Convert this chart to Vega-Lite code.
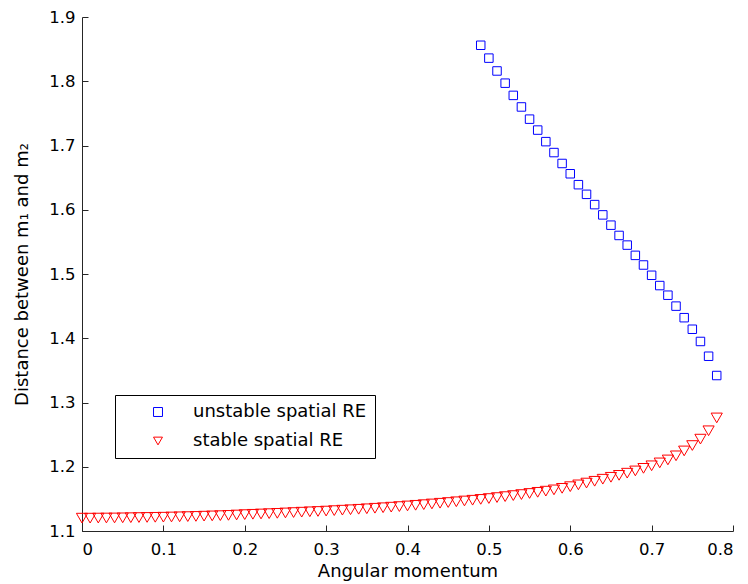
{
  "$schema": "https://vega.github.io/schema/vega-lite/v6.json",
  "autosize": {"type": "none"},
  "padding": {"left": 82, "top": 17, "right": 15, "bottom": 53},
  "width": 651,
  "height": 514,
  "background": "white",
  "config": {
    "view": {"stroke": null},
    "font": "DejaVu Sans",
    "axis": {
      "grid": false,
      "domainColor": "#262626",
      "tickColor": "#262626",
      "labelColor": "black",
      "titleColor": "black",
      "labelFont": "DejaVu Sans",
      "titleFont": "DejaVu Sans",
      "titleFontWeight": "normal",
      "tickSize": -6
    }
  },
  "datasets": {
    "unstable": [
      {"L": 0.49, "d": 1.856}, {"L": 0.50, "d": 1.836}, {"L": 0.51, "d": 1.816}, {"L": 0.52, "d": 1.797},
      {"L": 0.53, "d": 1.778}, {"L": 0.54, "d": 1.760}, {"L": 0.55, "d": 1.741}, {"L": 0.56, "d": 1.724},
      {"L": 0.57, "d": 1.706}, {"L": 0.58, "d": 1.689}, {"L": 0.59, "d": 1.672}, {"L": 0.60, "d": 1.656},
      {"L": 0.61, "d": 1.639}, {"L": 0.62, "d": 1.624}, {"L": 0.63, "d": 1.608}, {"L": 0.64, "d": 1.592},
      {"L": 0.65, "d": 1.576}, {"L": 0.66, "d": 1.560}, {"L": 0.67, "d": 1.545}, {"L": 0.68, "d": 1.529},
      {"L": 0.69, "d": 1.514}, {"L": 0.70, "d": 1.498}, {"L": 0.71, "d": 1.482}, {"L": 0.72, "d": 1.467},
      {"L": 0.73, "d": 1.450}, {"L": 0.74, "d": 1.432}, {"L": 0.75, "d": 1.414}, {"L": 0.76, "d": 1.395},
      {"L": 0.77, "d": 1.372}, {"L": 0.78, "d": 1.342}
    ],
    "stable": [
      {"L": 0.00, "d": 1.1200}, {"L": 0.01, "d": 1.1200}, {"L": 0.02, "d": 1.1201}, {"L": 0.03, "d": 1.1202},
      {"L": 0.04, "d": 1.1203}, {"L": 0.05, "d": 1.1205}, {"L": 0.06, "d": 1.1207}, {"L": 0.07, "d": 1.1209},
      {"L": 0.08, "d": 1.1211}, {"L": 0.09, "d": 1.1213}, {"L": 0.10, "d": 1.1215}, {"L": 0.11, "d": 1.1218},
      {"L": 0.12, "d": 1.1221}, {"L": 0.13, "d": 1.1224}, {"L": 0.14, "d": 1.1227}, {"L": 0.15, "d": 1.1231},
      {"L": 0.16, "d": 1.1235}, {"L": 0.17, "d": 1.1239}, {"L": 0.18, "d": 1.1243}, {"L": 0.19, "d": 1.1249},
      {"L": 0.20, "d": 1.1255}, {"L": 0.21, "d": 1.1260}, {"L": 0.22, "d": 1.1265}, {"L": 0.23, "d": 1.1270},
      {"L": 0.24, "d": 1.1275}, {"L": 0.25, "d": 1.1281}, {"L": 0.26, "d": 1.1287}, {"L": 0.27, "d": 1.1293},
      {"L": 0.28, "d": 1.1299}, {"L": 0.29, "d": 1.1304}, {"L": 0.30, "d": 1.1310}, {"L": 0.31, "d": 1.1317},
      {"L": 0.32, "d": 1.1324}, {"L": 0.33, "d": 1.1331}, {"L": 0.34, "d": 1.1338}, {"L": 0.35, "d": 1.1346},
      {"L": 0.36, "d": 1.1354}, {"L": 0.37, "d": 1.1362}, {"L": 0.38, "d": 1.1371}, {"L": 0.39, "d": 1.1380},
      {"L": 0.40, "d": 1.1390}, {"L": 0.41, "d": 1.1400}, {"L": 0.42, "d": 1.1410}, {"L": 0.43, "d": 1.1421},
      {"L": 0.44, "d": 1.1432}, {"L": 0.45, "d": 1.1443}, {"L": 0.46, "d": 1.1455}, {"L": 0.47, "d": 1.1467},
      {"L": 0.48, "d": 1.1479}, {"L": 0.49, "d": 1.1492}, {"L": 0.50, "d": 1.1505}, {"L": 0.51, "d": 1.1520},
      {"L": 0.52, "d": 1.1535}, {"L": 0.53, "d": 1.1551}, {"L": 0.54, "d": 1.1567}, {"L": 0.55, "d": 1.1584},
      {"L": 0.56, "d": 1.1602}, {"L": 0.57, "d": 1.1620}, {"L": 0.58, "d": 1.1640}, {"L": 0.59, "d": 1.1664},
      {"L": 0.60, "d": 1.1690}, {"L": 0.61, "d": 1.1718}, {"L": 0.62, "d": 1.1746}, {"L": 0.63, "d": 1.1774},
      {"L": 0.64, "d": 1.1806}, {"L": 0.65, "d": 1.1836}, {"L": 0.66, "d": 1.1866}, {"L": 0.67, "d": 1.1900},
      {"L": 0.68, "d": 1.1935}, {"L": 0.69, "d": 1.1975}, {"L": 0.70, "d": 1.2015}, {"L": 0.71, "d": 1.2060},
      {"L": 0.72, "d": 1.2106}, {"L": 0.73, "d": 1.2170}, {"L": 0.74, "d": 1.2246}, {"L": 0.75, "d": 1.2330},
      {"L": 0.76, "d": 1.2430}, {"L": 0.77, "d": 1.2560}, {"L": 0.78, "d": 1.2760}
    ]
  },
  "layer": [
    {
      "data": {"name": "unstable"},
      "transform": [{"calculate": "'unstable spatial RE'", "as": "series"}],
      "mark": {"type": "point", "filled": false, "strokeWidth": 1, "size": 72, "opacity": 1},
      "encoding": {
        "x": {"field": "L", "type": "quantitative"},
        "y": {"field": "d", "type": "quantitative"},
        "color": {"field": "series", "type": "nominal"},
        "shape": {"field": "series", "type": "nominal"}
      }
    },
    {
      "data": {"name": "stable"},
      "transform": [{"calculate": "'stable spatial RE'", "as": "series"}],
      "mark": {"type": "point", "filled": false, "strokeWidth": 1, "size": 125, "opacity": 1},
      "encoding": {
        "x": {"field": "L", "type": "quantitative"},
        "y": {"field": "d", "type": "quantitative"},
        "color": {"field": "series", "type": "nominal"},
        "shape": {"field": "series", "type": "nominal"}
      }
    }
  ],
  "encoding": {
    "x": {
      "field": "L", "type": "quantitative",
      "scale": {"domain": [0, 0.8], "nice": false, "zero": false},
      "axis": {
        "title": "Angular momentum", "values": [0, 0.1, 0.2, 0.3, 0.4, 0.5, 0.6, 0.7, 0.8], "format": ".1~f",
        "labelFontSize": 16.5, "titleFontSize": 18, "labelPadding": 16, "titlePadding": 5,
        "labelFont": "DejaVu Sans", "titleFont": "DejaVu Sans", "titleFontWeight": "normal", "tickSize": -6
      }
    },
    "y": {
      "field": "d", "type": "quantitative",
      "scale": {"domain": [1.1, 1.9], "nice": false, "zero": false},
      "axis": {
        "title": "Distance between m₁ and m₂", "values": [1.1, 1.2, 1.3, 1.4, 1.5, 1.6, 1.7, 1.8, 1.9], "format": ".1f",
        "labelFontSize": 16.5, "titleFontSize": 18, "labelPadding": 13, "titlePadding": 17,
        "labelFont": "DejaVu Sans", "titleFont": "DejaVu Sans", "titleFontWeight": "normal", "tickSize": -6
      }
    },
    "color": {
      "field": "series", "type": "nominal",
      "scale": {"domain": ["unstable spatial RE", "stable spatial RE"], "range": ["#0000ff", "#ff0000"]},
      "legend": {
        "title": null, "orient": "none", "legendX": 33, "legendY": 378,
        "strokeColor": "black", "fillColor": "white", "padding": 8,
        "symbolOffset": 26, "labelOffset": 26, "rowPadding": 11, "symbolSize": 80, "symbolStrokeWidth": 1,
        "labelFont": "DejaVu Sans", "labelFontSize": 18, "labelColor": "black", "labelLimit": 400
      }
    },
    "shape": {
      "field": "series", "type": "nominal",
      "scale": {"domain": ["unstable spatial RE", "stable spatial RE"], "range": ["square", "triangle-down"]}
    }
  }
}
